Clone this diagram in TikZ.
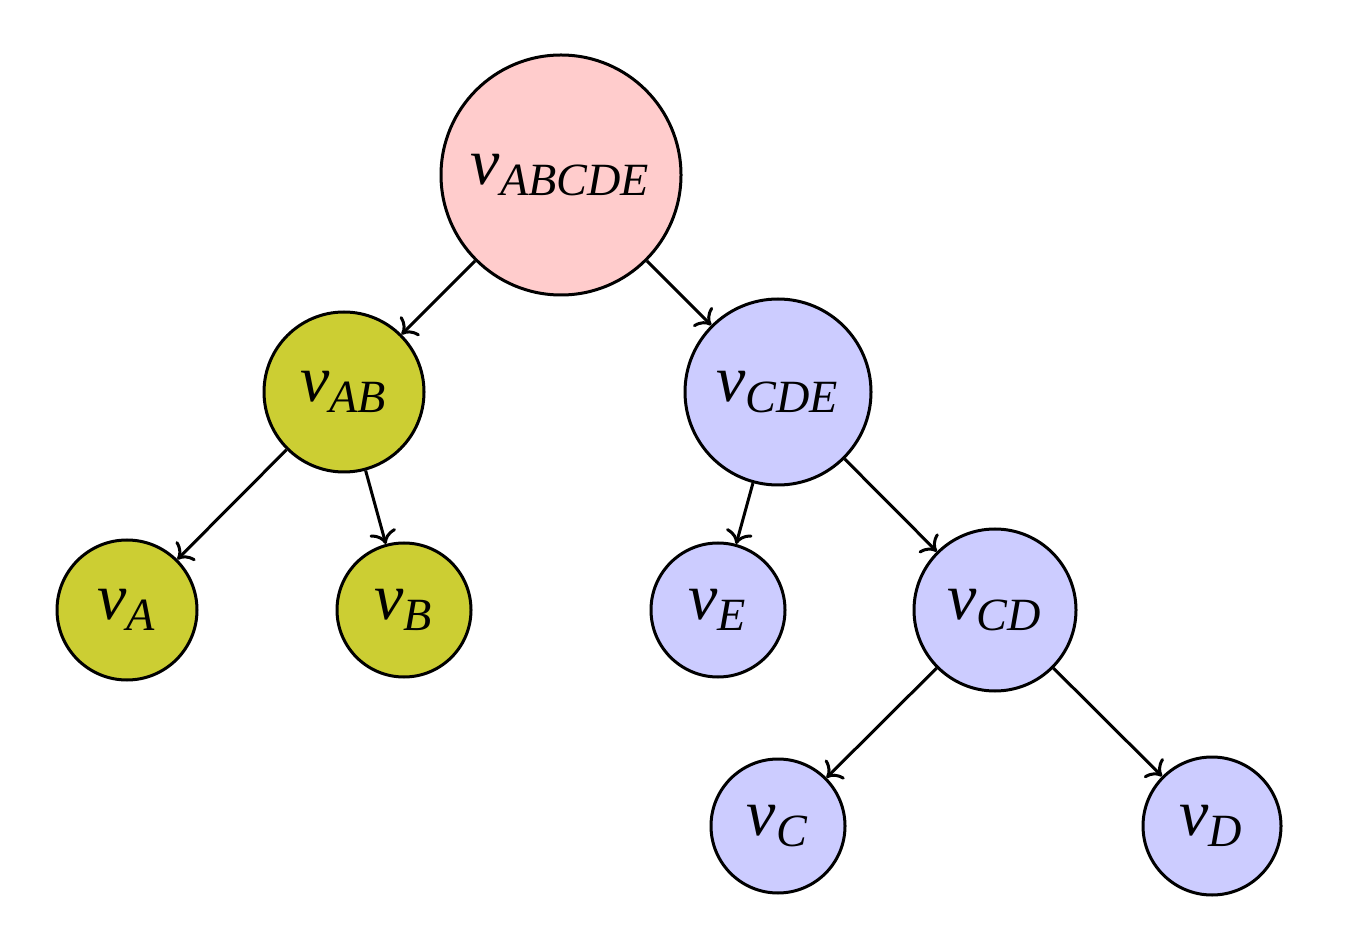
\documentclass[tikz,border=0pt]{standalone}
\usepackage{amsmath}
\usepackage{fontspec}
\setmainfont{Liberation Serif}
\usetikzlibrary{arrows.meta}
\definecolor{pinkfill}{RGB}{255,204,204}
\definecolor{olivefill}{RGB}{204,206,51}
\definecolor{bluefill}{RGB}{204,204,255}
\newcommand{\vlab}[1]{$\textit{v}_{\textit{#1}}$}
\begin{document}
\begin{tikzpicture}[x=0.25pt,y=-0.25pt,
  vert/.style={circle,draw=black,line width=0.75pt,inner sep=0pt,font=\fontsize{16.5}{19}\selectfont},
  pinkv/.style={vert,fill=pinkfill},
  olivev/.style={vert,fill=olivefill},
  bluev/.style={vert,fill=bluefill},
  edge/.style={line width=0.75pt,->}]
\useasboundingbox (0,0) rectangle (1359,951);
\node[pinkv,minimum size=60pt] (abcde) at (561,175) {\vlab{ABCDE}};
\node[olivev,minimum size=40pt] (ab) at (344,392) {\vlab{AB}};
\node[bluev,minimum size=46.5pt] (cde) at (778,392) {\vlab{CDE}};
\node[olivev,minimum size=35pt] (a) at (127,610) {\vlab{A}};
\node[olivev,minimum size=33.5pt] (b) at (404,610) {\vlab{B}};
\node[bluev,minimum size=33.5pt] (e) at (718,610) {\vlab{E}};
\node[bluev,minimum size=40.5pt] (cd) at (995,610) {\vlab{CD}};
\node[bluev,minimum size=33.5pt] (c) at (778,826) {\vlab{C}};
\node[bluev,minimum size=34.5pt] (d) at (1212,826) {\vlab{D}};
\draw[edge] (abcde) -- (ab);
\draw[edge] (abcde) -- (cde);
\draw[edge] (ab) -- (a);
\draw[edge] (ab) -- (b);
\draw[edge] (cde) -- (e);
\draw[edge] (cde) -- (cd);
\draw[edge] (cd) -- (c);
\draw[edge] (cd) -- (d);
\end{tikzpicture}
\end{document}
